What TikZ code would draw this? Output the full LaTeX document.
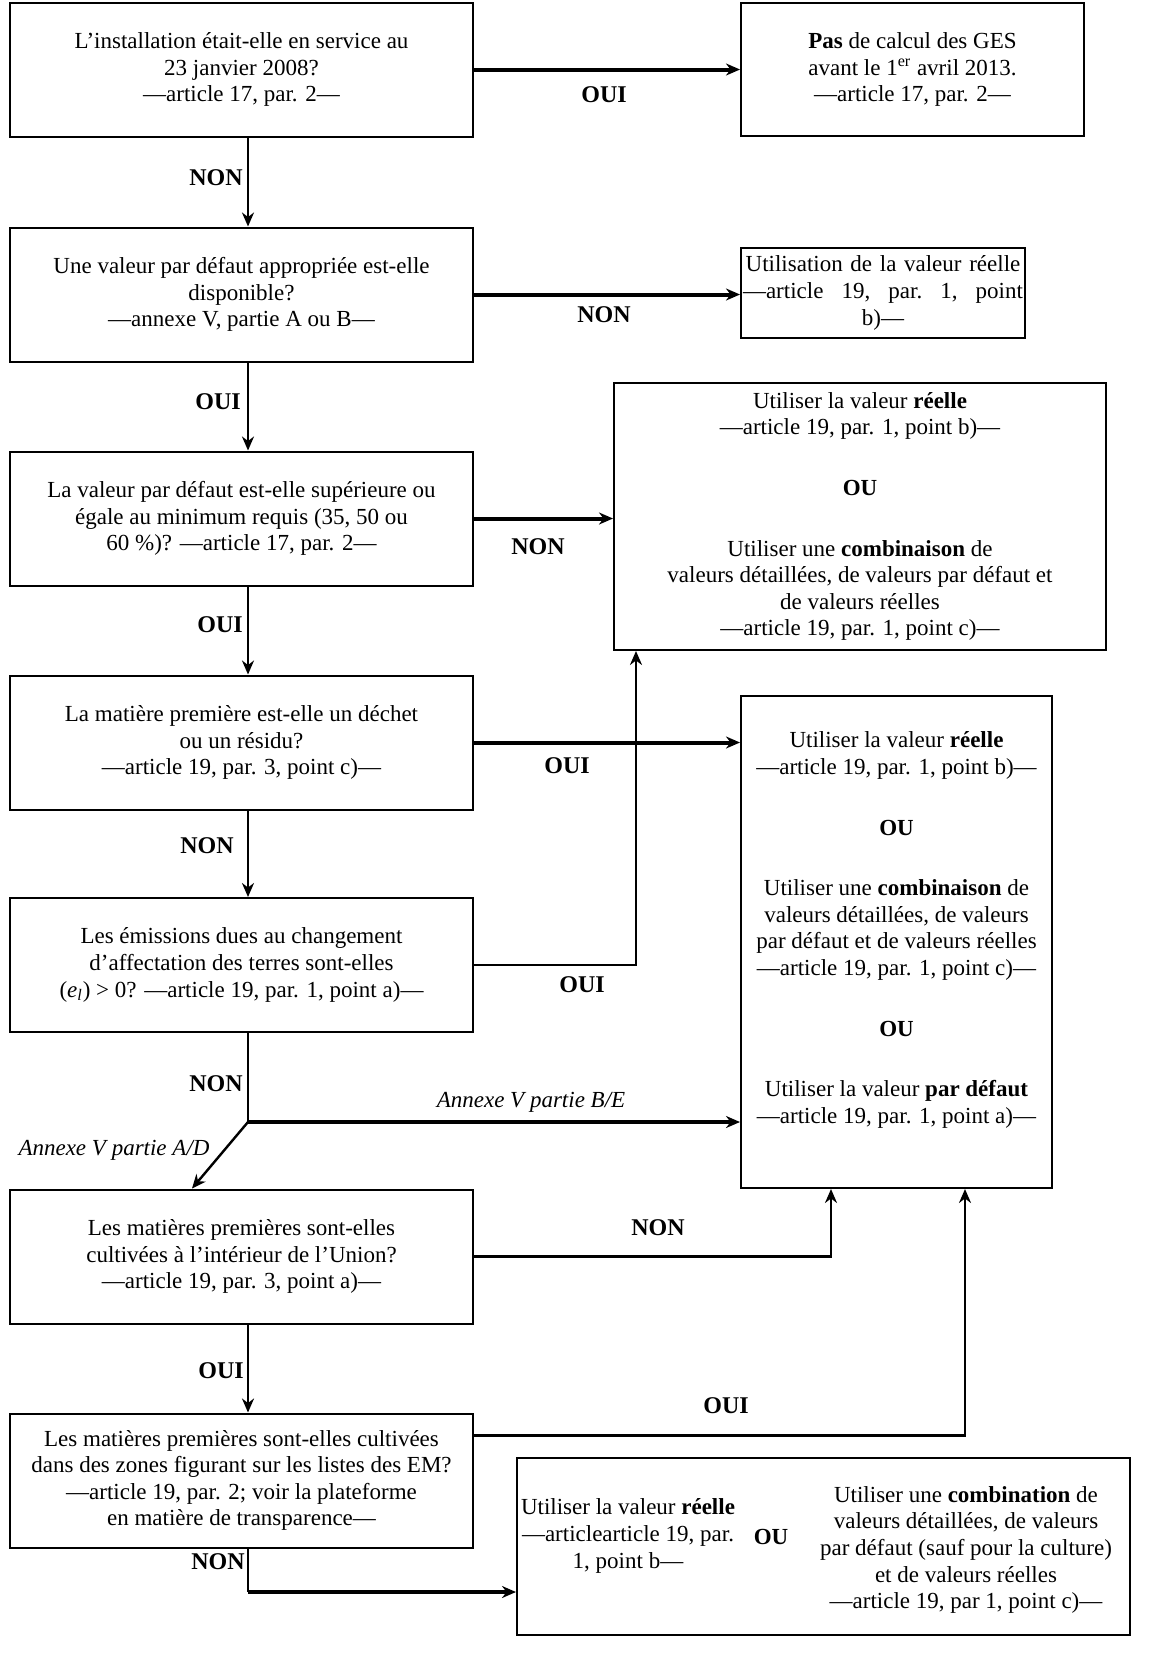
\documentclass[tikz,border=0pt]{standalone}
\usepackage{fontspec}
\setmainfont{Liberation Serif}
\usetikzlibrary{
	arrows.meta,
	positioning
}
\newcommand{\boxfont}{\fontsize{11.5}{13.3}\selectfont}

\begin{document}
\begin{tikzpicture}[
		x=0.5pt, y=-0.5pt,
		>={Stealth[length=7pt,width=6pt]},
		qbox/.style={
			draw,
			line width=1pt,
			minimum width=231.5pt,
			minimum height=67pt,
			align=center,
			inner sep=2pt,
			font=\boxfont
		},
		rbox/.style={
			draw,
			line width=1pt,
			align=center,
			inner sep=1pt,
			font=\boxfont
		},
		lbl/.style={font=\fontsize{12}{14}\selectfont\bfseries},
		ann/.style={font=\fontsize{11.5}{13}\selectfont\itshape},
		flow/.style={->, line width=1.2pt},
		flowb/.style={->, line width=2pt}
		]
		
		\useasboundingbox (0,0) rectangle (1149,1666);
		\coordinate (spine) at (248,0);
		\coordinate (fork) at (248,1122);
		\coordinate (bend) at (248,1592);
		
		% Questions
		\node[qbox] (q1) at (241.5,69.5) {L’installation était-elle en service au\\23 janvier 2008?\\—article 17, par. 2—};
		\node[qbox] (q2) at (241.5,294.5) {Une valeur par défaut appropriée est-elle\\disponible?\\—annexe V, partie A ou B—};
		\node[qbox] (q3) at (241.5,518.5) {La valeur par défaut est-elle supérieure ou\\égale au minimum requis (35, 50 ou\\60 \%)? —article 17, par. 2—};
		\node[qbox] (q4) at (241.5,742.5) {La matière première est-elle un déchet\\ou un résidu?\\—article 19, par. 3, point c)—};
		\node[qbox] (q5) at (241.5,965) {Les émissions dues au changement\\d’affectation des terres sont-elles\\(\textit{e}\textsubscript{\textit{l}}) > 0? —article 19, par. 1, point a)—};
		\node[qbox] (q6) at (241.5,1256.5) {Les matières premières sont-elles\\cultivées à l’intérieur de l’Union?\\—article 19, par. 3, point a)—};
		\node[qbox] (q7) at (241.5,1480.5) {Les matières premières sont-elles cultivées\\dans des zones figurant sur les listes des EM?\\—article 19, par. 2; voir la plateforme\\en matière de transparence—};
		
		% Outcomes
		\node[rbox, minimum width=171.5pt, minimum height=66.5pt] (r1) at (912.5,69.5) {\textbf{Pas} de calcul des GES\\avant le 1\textsuperscript{er} avril 2013.\\—article 17, par. 2—};
		\node[rbox, minimum height=45pt, text width=140pt] (r2) at (883,293) {Utilisation de la valeur réelle\\\makebox[140pt]{—article\hfill 19,\hfill par.\hfill 1,\hfill point}\\b)—};
		\node[rbox, minimum width=246pt, minimum height=133.5pt] (r3) at (860,516.5) {Utiliser la valeur \textbf{réelle}\\—article 19, par. 1, point b)—\\[17pt]\textbf{OU}\\[17pt]Utiliser une \textbf{combinaison} de\\valeurs détaillées, de valeurs par défaut et\\de valeurs réelles\\—article 19, par. 1, point c)—};
		\node[rbox, minimum width=155.5pt, minimum height=246pt] (r4) at (896.5,942) {};
		\node[font=\boxfont, align=center, inner sep=0pt] (r4t) at (896.5,930) {Utiliser la valeur \textbf{réelle}\\—article 19, par. 1, point b)—\\[17pt]\textbf{OU}\\[17pt]Utiliser une \textbf{combinaison} de\\valeurs détaillées, de valeurs\\par défaut et de valeurs réelles\\—article 19, par. 1, point c)—\\[17pt]\textbf{OU}\\[17pt]Utiliser la valeur \textbf{par défaut}\\—article 19, par. 1, point a)—};
		\node[rbox, minimum width=306.5pt, minimum height=88.5pt] (r5) at (823.5,1546.5) {};
		\node[font=\boxfont, align=center, inner sep=0pt] (r5a) at (628,1536) {Utiliser la valeur \textbf{réelle}\\—articlearticle 19, par.\\1, point b—};
		\node[font=\boxfont\bfseries, inner sep=0pt] (r5ou) at (771,1537) {OU};
		\node[font=\boxfont, align=center, inner sep=0pt] (r5b) at (966,1550) {Utiliser une \textbf{combination} de\\valeurs détaillées, de valeurs\\par défaut (sauf pour la culture)\\et de valeurs réelles\\—article 19, par 1, point c)—};
		
		% Connections
		\draw[flowb] (q1.east) -- (q1.east -| r1.west);
		\draw[flow] (q1.south -| spine) -- (q2.north -| spine);
		\draw[flowb] (q2.east) -- (q2.east -| r2.west);
		\draw[flow] (q2.south -| spine) -- (q3.north -| spine);
		\draw[flowb] (q3.east) -- (q3.east -| r3.west);
		\draw[flow] (q3.south -| spine) -- (q4.north -| spine);
		\draw[flow] (q5.east) -| ([xshift=11.5pt]r3.south west);
		\draw[flowb] (q4.east) -- (q4.east -| r4.west);
		\draw[flow] (q4.south -| spine) -- (q5.north -| spine);
		\draw[line width=1.2pt] (q5.south -| spine) -- (fork);
		\draw[flowb] (fork) -- (fork -| r4.west);
		\draw[flow] (fork) -- ([xshift=-24.75pt]q6.north);
		\draw[flow] (q6.east) -| ([xshift=-32.75pt]r4.south);
		\draw[flow] (q6.south -| spine) -- (q7.north -| spine);
		\draw[flow] ([yshift=22.5pt]q7.east) -| ([xshift=34.25pt]r4.south);
		\draw[line width=1.2pt] (q7.south -| spine) -- (bend);
		\draw[flowb] (bend) -- (bend -| r5.west);
		
		% Labels
		\node[lbl] (l1) at (604,95) {OUI};
		\node[lbl] (l2) at (216,178) {NON};
		\node[lbl] (l3) at (604,315) {NON};
		\node[lbl] (l4) at (218,402) {OUI};
		\node[lbl] (l5) at (538,547) {NON};
		\node[lbl] (l6) at (220,625) {OUI};
		\node[lbl] (l7) at (567,766) {OUI};
		\node[lbl] (l8) at (207,846) {NON};
		\node[lbl] (l9) at (582,985) {OUI};
		\node[lbl] (l10) at (216,1084) {NON};
		\node[ann] (l11) at (531,1102) {Annexe V partie B/E};
		\node[ann] (l12) at (114,1150) {Annexe V partie A/D};
		\node[lbl] (l13) at (658,1228) {NON};
		\node[lbl] (l14) at (221,1371) {OUI};
		\node[lbl] (l15) at (726,1406) {OUI};
		\node[lbl] (l16) at (218,1562) {NON};
		
	\end{tikzpicture}
\end{document}
